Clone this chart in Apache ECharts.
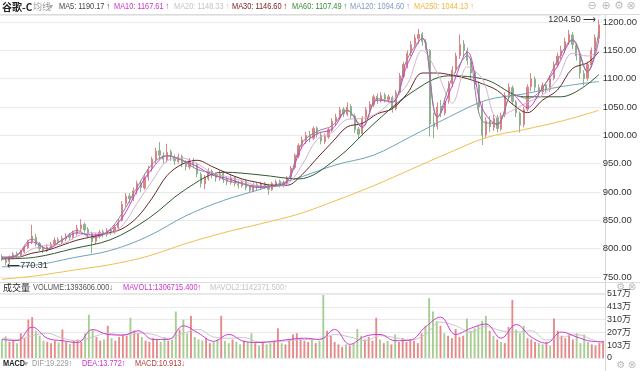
<!DOCTYPE html>
<html><head><meta charset="utf-8">
<script src="https://cdn.jsdelivr.net/npm/echarts@6/dist/echarts.min.js"></script>
<style>html,body{margin:0;padding:0;background:#fff}#c{width:640px;height:371px}</style>
</head><body><div id="c"></div>
<script>
// [open, close, low, high]
const candles = [
[786,782,778,790],[780,776,770.31,784],[777,785,775,788],[784,790,781,794],[791,788,784,795],
[787,795,785,798],[794,803,792,806],[802,812,799,816],[813,822,808,842],[820,808,804,826],
[809,800,796,812],[801,797,792,805],[796,803,794,808],[802,808,799,812],[807,815,804,820],
[816,812,808,820],[811,818,808,823],[817,822,813,827],[823,820,815,828],[819,828,816,832],
[827,836,823,842],[835,842,830,852],[843,833,828,846],[834,826,820,838],[827,812,792,830],
[813,824,808,828],[823,829,818,833],[830,826,820,834],[825,832,821,836],[833,830,824,836],
[829,838,826,842],[837,846,834,852],[850,878,848,884],[880,892,874,898],[893,888,880,898],
[887,902,884,908],[903,915,896,920],[916,908,900,920],[907,925,904,930],[926,940,920,946],
[941,958,936,962],[957,972,950,978],[973,965,958,988],[964,958,950,970],[957,970,952,985],
[971,962,955,975],[961,955,948,966],[954,962,950,968],[963,950,944,966],[951,945,938,956],
[944,955,940,960],[956,948,942,960],[949,932,926,952],[931,915,908,935],[914,925,905,930],
[924,936,920,942],[937,930,924,940],[931,925,918,934],[924,932,920,938],[933,922,916,936],
[923,918,912,928],[917,925,913,930],[926,915,910,928],[914,912,906,920],[911,918,908,922],
[919,908,903,921],[909,903,898,912],[902,912,900,916],[913,908,903,916],[907,914,904,918],
[915,910,905,918],[911,905,895,915],[904,915,902,918],[914,918,910,922],[919,912,908,922],
[911,916,908,920],[915,925,912,928],[926,942,922,946],[943,965,940,968],[964,982,960,986],
[983,992,976,998],[991,1000,985,1006],[1001,996,988,1008],[995,1012,992,1016],[1013,1002,996,1016],
[1001,990,984,1006],[989,998,985,1003],[997,1010,994,1014],[1009,1025,1006,1030],[1024,1032,1018,1038],
[1031,1045,1028,1050],[1046,1038,1032,1050],[1037,1050,1034,1058],[1051,1035,1028,1055],[1034,1010,1004,1038],
[1011,1002,995,1015],[1003,1030,1000,1034],[1029,1045,1025,1050],[1044,1055,1040,1060],[1054,1068,1050,1072],
[1069,1062,1055,1074],[1061,1070,1058,1076],[1071,1064,1058,1075],[1063,1068,1058,1072],[1067,1048,1040,1070],
[1047,1075,1044,1080],[1076,1105,1072,1110],[1104,1125,1100,1130],[1124,1145,1118,1150],[1146,1160,1140,1166],
[1161,1172,1155,1178],[1171,1178,1162,1188],[1179,1165,1158,1182],[1164,1160,1150,1170],[1150,1020,998,1152],
[1022,1015,995,1040],[1016,1050,1010,1058],[1051,1040,1032,1062],[1039,1060,1035,1066],[1061,1090,1056,1096],
[1091,1115,1085,1122],[1116,1140,1110,1146],[1141,1160,1135,1178],[1161,1150,1140,1168],[1149,1132,1124,1155],
[1131,1110,1100,1136],[1111,1090,1082,1115],[1089,1050,1040,1095],[1049,1000,983,1058],[1001,1025,995,1032],
[1026,1015,1006,1034],[1014,1030,1008,1036],[1031,1012,1005,1036],[1011,1035,1008,1040],[1036,1070,1032,1076],
[1071,1085,1064,1092],[1084,1060,1054,1088],[1059,1040,1032,1062],[1039,1018,1005,1042],[1019,1045,1014,1050],
[1046,1085,1042,1090],[1086,1100,1078,1110],[1099,1085,1078,1104],[1084,1078,1070,1090],[1077,1088,1072,1093],
[1089,1080,1074,1092],[1081,1100,1077,1105],[1101,1125,1097,1130],[1124,1140,1120,1146],[1141,1150,1134,1158],
[1151,1165,1145,1172],[1166,1178,1160,1186],[1177,1160,1152,1182],[1159,1140,1132,1163],[1139,1110,1100,1142],
[1109,1100,1088,1115],[1101,1125,1096,1130],[1124,1150,1120,1155],[1151,1172,1146,1178],[1171,1195,1166,1204.5]
];
// volume, in 万
const volumes = [
150,175,130,140,120,200,160,310,330,220,
180,140,130,120,140,125,230,130,115,140,
150,130,200,350,230,170,140,150,260,160,
140,170,190,180,325,220,200,170,140,130,
160,150,130,170,140,150,375,230,310,200,
340,170,150,140,160,120,130,150,340,140,
120,150,130,110,140,130,200,120,100,130,
110,120,140,240,120,110,150,190,200,160,
140,130,150,120,140,509,220,180,130,110,
90,110,100,120,235,180,150,170,140,325,
150,120,140,110,190,130,160,130,150,140,
120,200,260,485,375,300,260,200,180,160,
235,170,180,320,220,240,260,300,340,220,
180,150,130,120,250,470,230,200,260,160,
150,130,120,110,130,100,320,220,180,160,
190,150,200,120,190,130,110,100,120,139
];
// indices where the moving-average lines were read
const sampleIdx = [0,4,8,12,16,20,24,28,32,36,40,44,48,52,56,60,64,68,72,76,80,84,88,92,96,100,104,108,112,116,120,124,128,132,136,140,144,148,152,156,159];
const ma5  = [784,789,817,800,815,832,819,829,862,908,949,964,956,940,933,920,915,910,910,920,987,1007,1017,1044,1016,1065,1058,1135,1171,1032,1102,1141,1025,1021,1072,1065,1083,1132,1169,1112,1183];
const ma10 = [782,788,812,800,815,828,824,829,854,902,941,964,956,945,930,924,915,908,910,918,980,1003,1011,1044,1014,1062,1060,1125,1172,1032,1088,1147,1047,1019,1072,1049,1084,1122,1168,1112,1167];
const ma20 = [785,785,799,806,808,822,828,826,840,880,919,955,960,950,934,927,920,911,910,914,948,993,1005,1028,1030,1039,1062,1090,1150,1110,1057,1121,1099,1032,1044,1058,1071,1099,1145,1140,1148];
const ma30 = [785,785,792,797,806,815,821,827,835,855,889,929,949,956,945,933,923,917,912,912,931,960,988,1015,1021,1038,1047,1074,1110,1110,1106,1100,1091,1079,1055,1040,1062,1080,1118,1128,1147];
const slowIdx = [0,9,19,29,39,49,59,69,79,89,99,109,119,129,139,149,159];
const ma60  = [782,785,800,816,853,905,935,930,923,958,1020,1075,1105,1098,1068,1068,1107];
const ma120 = [768,771,784,797,822,858,885,905,925,948,965,998,1032,1062,1073,1086,1095];
const ma250 = [746,752,762,772,787,809,828,844,861,885,911,940,969,996,1010,1025,1044];
const mavol1 = [150,140,250,160,140,125,230,190,185,220,150,150,260,200,135,190,135,125,135,150,160,150,230,110,175,190,140,145,250,330,190,240,275,160,270,170,120,210,170,135,131];
const mavol2 = [160,150,180,200,160,140,170,200,185,200,190,155,200,230,170,160,165,130,130,140,150,150,190,170,140,180,165,145,190,290,260,210,255,220,210,220,145,165,190,150,114];
const priceMin = 750, priceMax = 1212, priceStep = 50;
const volTickLabels = ['0','103万','207万','310万','413万','517万'];

const N = candles.length;
const cats = candles.map((_, i) => String(i));
function spread(idx, vals) { const a = new Array(N).fill(null); idx.forEach((k, j) => { a[k] = vals[j]; }); return a; }
let hiIdx = 0, loIdx = 0;
candles.forEach((c, i) => { if (c[3] > candles[hiIdx][3]) hiIdx = i; if (c[2] < candles[loIdx][2]) loIdx = i; });

const UP = '#d98585', DOWN = '#8db08d';
const SANS = '"Liberation Sans",Arial,sans-serif';
const CJK = '"Noto Sans CJK SC","Liberation Sans",sans-serif';
const MIX = '"Liberation Sans","Noto Sans CJK SC",sans-serif';

function maLine(name, idx, vals, color) {
  return { name, type: 'line', xAxisIndex: 0, yAxisIndex: 0, data: spread(idx, vals), connectNulls: true,
    smooth: 0.35, symbol: 'none', clip: false, lineStyle: { width: 1, color }, silent: true, z: 3 };
}
function vLine(name, vals, color) {
  return { name, type: 'line', xAxisIndex: 1, yAxisIndex: 1, data: spread(sampleIdx, vals), connectNulls: true,
    smooth: 0.4, symbol: 'none', lineStyle: { width: 1, color }, silent: true, z: 3 };
}
function txt(x, y, text, color, size, family, bold, align, sx) {
  return { type: 'text', x, y, scaleX: sx || 1, silent: true, z: 100,
    style: { text, fill: color, font: (bold ? 'bold ' : '') + size + 'px ' + family,
      textAlign: align || 'left', align: align || 'left', textVerticalAlign: 'middle', verticalAlign: 'middle' } };
}
const NX = 0.82;
function hline(y, x1, x2, c) { return { type: 'line', silent: true, z: -1, shape: { x1, y1: y, x2, y2: y }, style: { stroke: c || '#dcdcdc', lineWidth: 1 } }; }

const graphic = [
  hline(14.5, 0, 640), hline(282.5, 0, 640), hline(293.5, 0, 605, '#e6e6e6'), hline(358.5, 0, 605, '#e6e6e6'),
  { type: 'line', silent: true, z: -1, shape: { x1: 605.5, y1: 14, x2: 605.5, y2: 371 }, style: { stroke: '#d8d8d8', lineWidth: 1 } },
  txt(2, 7, '谷歌-C', '#222', 10, CJK, true),
  txt(33, 7, '均线', '#999', 9, CJK), txt(49, 7, '▾', '#aaa', 8, 'DejaVu Sans'),
  txt(59, 7, 'MA5: 1190.17 ↑', '#444', 9, SANS, false, 'left', NX),
  txt(114, 7, 'MA10: 1167.61 ↑', '#cc33cc', 9, SANS, false, 'left', NX),
  txt(174, 7, 'MA20: 1148.33 ↑', '#c4c4c4', 9, SANS, false, 'left', NX),
  txt(232, 7, 'MA30: 1146.60 ↑', '#7a2020', 9, SANS, false, 'left', NX),
  txt(292, 7, 'MA60: 1107.49 ↑', '#3a8a3a', 9, SANS, false, 'left', NX),
  txt(350, 7, 'MA120: 1094.60 ↑', '#7c9cc0', 9, SANS, false, 'left', NX),
  txt(414, 7, 'MA250: 1044.13 ↑', '#f2b640', 9, SANS, false, 'left', NX),
  txt(592, 6, '⊖', '#bbb', 11, 'DejaVu Sans', false, 'center'),
  txt(606, 6, '⊕', '#bbb', 11, 'DejaVu Sans', false, 'center'),
  txt(619, 6, '⚙', '#bbb', 11, 'DejaVu Sans', false, 'center'),
  txt(631, 6, '⊗', '#bbb', 11, 'DejaVu Sans', false, 'center'),
  txt(3, 288, '成交量', '#222', 9, CJK), txt(26, 288, '▾', '#aaa', 8, 'DejaVu Sans'),
  txt(33, 288, 'VOLUME:1393606.000↓', '#555', 9, SANS, false, 'left', NX),
  txt(123, 288, 'MAVOL1:1306715.400↑', '#cc33cc', 9, SANS, false, 'left', NX),
  txt(210, 288, 'MAVOL2:1142371.500↑', '#c4c4c4', 9, SANS, false, 'left', NX),
  txt(621, 287, '⚙', '#bbb', 10, 'DejaVu Sans', false, 'center'),
  txt(632, 287, '⊗', '#bbb', 10, 'DejaVu Sans', false, 'center'),
  txt(3, 364, 'MACD', '#222', 9, SANS, true, 'left', NX), txt(24, 364, '▾', '#aaa', 8, 'DejaVu Sans'),
  txt(32, 364, 'DIF:19.229↑', '#999', 9, SANS, false, 'left', NX),
  txt(82, 364, 'DEA:13.772↑', '#cc33cc', 9, SANS, false, 'left', NX),
  txt(135, 364, 'MACD:10.913↓', '#b83a3a', 9, SANS, false, 'left', NX),
  txt(621, 365, '⚙', '#bbb', 10, 'DejaVu Sans', false, 'center'),
  txt(632, 365, '⊗', '#bbb', 10, 'DejaVu Sans', false, 'center')
];

const volData = volumes.map((v, i) => ({ value: v, itemStyle: { color: candles[i][1] >= candles[i][0] ? '#e58a8a' : '#a8cd93' } }));

const option = {
  animation: false,
  backgroundColor: '#fff',
  textStyle: { fontFamily: SANS },
  grid: [
    { left: 0, right: 35, top: 15.2, height: 261.8 },
    { left: 0, right: 35, top: 294, height: 64 }
  ],
  xAxis: [
    { type: 'category', gridIndex: 0, data: cats, boundaryGap: true, axisLine: { show: false }, axisTick: { show: false }, axisLabel: { show: false }, splitLine: { show: false } },
    { type: 'category', gridIndex: 1, data: cats, boundaryGap: true, axisLine: { show: false }, axisTick: { show: false }, axisLabel: { show: false }, splitLine: { show: false } }
  ],
  yAxis: [
    { type: 'value', gridIndex: 0, position: 'right', min: priceMin, max: priceMax, interval: priceStep,
      axisLine: { show: false }, axisTick: { show: false },
      axisLabel: { fontSize: 9.5, color: '#333', margin: 2, fontFamily: SANS, showMaxLabel: false, showMinLabel: true,
        formatter: v => (Math.abs(v % priceStep) < 1e-6 ? v.toFixed(2) : '') },
      splitLine: { lineStyle: { color: '#eaeaea', width: 1 } } },
    { type: 'value', gridIndex: 1, position: 'right', min: 0, max: 517, interval: 103.4,
      axisLine: { show: false }, axisTick: { show: false },
      axisLabel: { fontSize: 9, lineHeight: 9, color: '#333', margin: 2, fontFamily: MIX,
        showMaxLabel: true, showMinLabel: true,
        formatter: (v, i) => volTickLabels[i] },
      splitLine: { lineStyle: { color: '#eaeaea', width: 1 } } }
  ],
  series: [
    maLine('MA250', slowIdx, ma250, '#efbf4e'),
    maLine('MA120', slowIdx, ma120, '#6fa3b8'),
    maLine('MA60', slowIdx, ma60, '#2f5a32'),
    maLine('MA30', sampleIdx, ma30, '#6a2525'),
    maLine('MA20', sampleIdx, ma20, '#d2b4d2'),
    maLine('MA10', sampleIdx, ma10, '#d23ad2'),
    maLine('MA5', sampleIdx, ma5, '#8a8a8a'),
    { name: 'K', type: 'candlestick', xAxisIndex: 0, yAxisIndex: 0, data: candles, barWidth: '45%', clip: false, z: 2,
      itemStyle: { color: UP, color0: DOWN, borderColor: UP, borderColor0: DOWN, borderWidth: 1 },
      markPoint: { symbol: 'circle', symbolSize: 1, animation: false, itemStyle: { color: 'rgba(0,0,0,0)' },
        data: [
          { name: 'hi', coord: [cats[hiIdx], candles[hiIdx][3]], value: candles[hiIdx][3],
            label: { show: true, position: 'left', distance: 2, color: '#333', fontSize: 9, fontFamily: SANS, formatter: p => p.value.toFixed(2) + ' ⟶' } },
          { name: 'lo', coord: [cats[loIdx], candles[loIdx][2]], value: candles[loIdx][2],
            label: { show: true, position: 'right', distance: 1, color: '#333', fontSize: 9, fontFamily: SANS, formatter: p => '⟵' + p.value.toFixed(2) } }
        ] } },
    { name: 'VOL', type: 'bar', xAxisIndex: 1, yAxisIndex: 1, data: volData, barWidth: '50%', z: 2 },
    vLine('MAVOL2', mavol2, '#c8c8c8'),
    vLine('MAVOL1', mavol1, '#d23ad2')
  ],
  graphic
};
const chart = echarts.init(document.getElementById('c'), null, { renderer: 'canvas' });
chart.setOption(option);
</script>
</body></html>
